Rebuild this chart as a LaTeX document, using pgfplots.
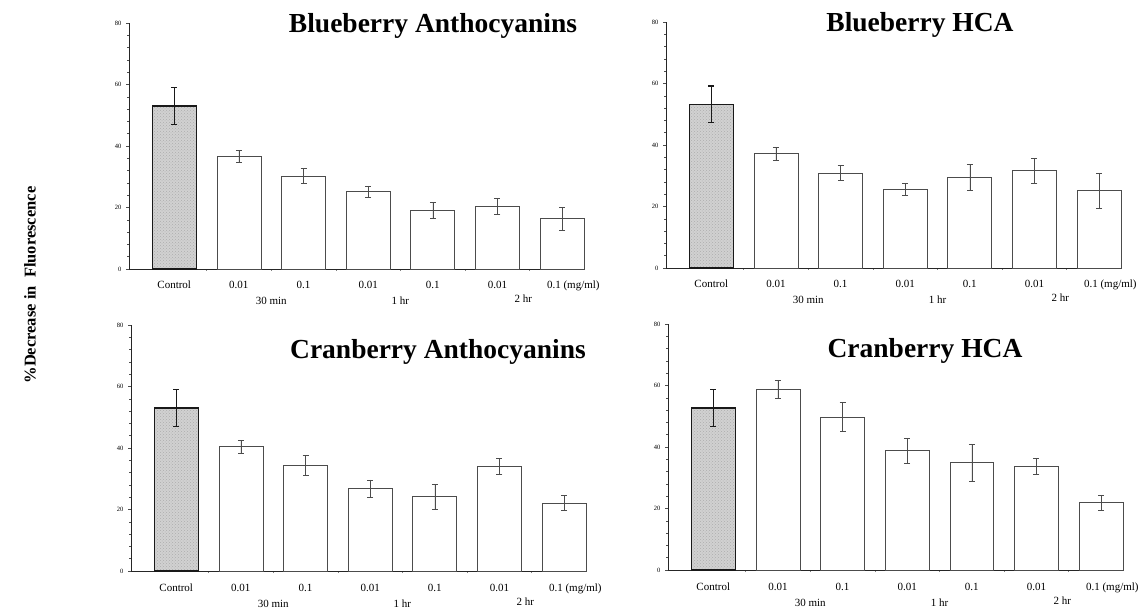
\documentclass[border=0pt]{standalone}
\usepackage{pgfplots}
\pgfplotsset{compat=1.18}
\usepackage{fontspec}
\setmainfont{Liberation Serif}
\usetikzlibrary{patterns}

\pgfplotsset{
  panel/.style={
    scale only axis, width=455pt, height=246pt, anchor=south west,
    xmin=-0.7, xmax=6.34, ymin=0, ymax=80,
    axis x line=bottom, axis y line=left,
    axis line style={-, line width=0.8pt, black!85},
    ytick={0,20,40,60,80}, minor y tick num=4,
    tick align=outside, major tick length=3pt, minor tick length=2pt,
    tick style={black!70, line width=0.5pt},
    /pgf/number format/assume math mode=true,
    yticklabel style={font=\fontsize{6.5}{7}\selectfont, xshift=-1pt},
    xtick={0,...,6},
    xticklabels={Control,0.01,0.1,0.01,0.1,0.01,{\rlap{\kern-15pt 0.1 (mg/ml)}}},
    major x tick style={draw=none},
    minor xtick={0.5,1.5,2.5,3.5,4.5,5.5},
    minor x tick style={black!50},
    xticklabel style={font=\fontsize{11}{12}\selectfont, anchor=base, yshift=-17pt},
    clip=false,
  },
  ctrl/.style={ybar, bar shift=0pt, bar width=0.68, fill=black!18,
    postaction={pattern=crosshatch dots, pattern color=black!32},
    draw=black!90, line width=1.4pt,
    error bars/.cd, y dir=both, y explicit,
    error bar style={line width=1.1pt, black!90},
    error mark options={rotate=90, mark size=3.2pt, line width=1.1pt, black!90}},
  trt/.style={ybar, bar shift=0pt, bar width=0.68, fill=white,
    draw=black!70, line width=0.6pt,
    error bars/.cd, y dir=both, y explicit,
    error bar style={line width=0.5pt, black!70},
    error mark options={rotate=90, mark size=3pt, line width=0.5pt, black!70}},
}
\newcommand{\grouplabels}{%
  \node[font=\fontsize{11}{12}\selectfont, anchor=base] at ([yshift=-36pt]axis cs:1.5,0) {30 min};
  \node[font=\fontsize{11}{12}\selectfont, anchor=base] at ([yshift=-36pt]axis cs:3.5,0) {1 hr};
  \node[font=\fontsize{11}{12}\selectfont, anchor=base] at ([yshift=-34pt]axis cs:5.4,0) {2 hr};
}

\begin{document}
\begin{tikzpicture}
\useasboundingbox (0pt,0pt) rectangle (1140pt,613pt);

% Panel 1: Blueberry Anthocyanins
\begin{axis}[panel, at={(129pt,344pt)}]
\addplot[ctrl] coordinates {(0,53.0) +- (0,6.0)};
\addplot[trt] coordinates {
 (1,36.6) +- (0,1.9)
 (2,30.3) +- (0,2.4)
 (3,25.2) +- (0,1.8)
 (4,19.1) +- (0,2.6)
 (5,20.4) +- (0,2.6)
 (6,16.4) +- (0,3.7)
};
\grouplabels
\end{axis}

% Panel 2: Blueberry HCA
\begin{axis}[panel, at={(666pt,345pt)}]
\addplot[ctrl] coordinates {(0,53.2) +- (0,6.0)};
\addplot[trt] coordinates {
 (1,37.3) +- (0,2.1)
 (2,30.9) +- (0,2.5)
 (3,25.6) +- (0,2.0)
 (4,29.5) +- (0,4.1)
 (5,31.7) +- (0,4.0)
 (6,25.2) +- (0,5.7)
};
\grouplabels
\end{axis}

% Panel 3: Cranberry Anthocyanins
\begin{axis}[panel, at={(131pt,42pt)}]
\addplot[ctrl] coordinates {(0,53.0) +- (0,6.0)};
\addplot[trt] coordinates {
 (1,40.4) +- (0,2.0)
 (2,34.5) +- (0,3.2)
 (3,26.8) +- (0,2.8)
 (4,24.2) +- (0,4.1)
 (5,34.1) +- (0,2.6)
 (6,22.1) +- (0,2.4)
};
\grouplabels
\end{axis}

% Panel 4: Cranberry HCA
\begin{axis}[panel, at={(668pt,43pt)}]
\addplot[ctrl] coordinates {(0,52.7) +- (0,6.0)};
\addplot[trt] coordinates {
 (1,58.8) +- (0,2.9)
 (2,49.8) +- (0,4.6)
 (3,38.8) +- (0,4.1)
 (4,35.0) +- (0,6.0)
 (5,33.8) +- (0,2.5)
 (6,21.9) +- (0,2.5)
};
\grouplabels
\end{axis}

% Titles
\node[anchor=base, font=\fontsize{27.5}{30}\selectfont\bfseries] at (433pt,580pt) {Blueberry Anthocyanins};
\node[anchor=base, font=\fontsize{27.5}{30}\selectfont\bfseries] at (920pt,581pt) {Blueberry HCA};
\node[anchor=base, font=\fontsize{27.5}{30}\selectfont\bfseries] at (438pt,254pt) {Cranberry Anthocyanins};
\node[anchor=base, font=\fontsize{27.5}{30}\selectfont\bfseries] at (925pt,255pt) {Cranberry HCA};

% Shared y label
\node[rotate=90, font=\fontsize{16.5}{18}\selectfont\bfseries] at (30pt,328pt) {\%Decrease in\ \ Fluorescence};
\end{tikzpicture}
\end{document}
